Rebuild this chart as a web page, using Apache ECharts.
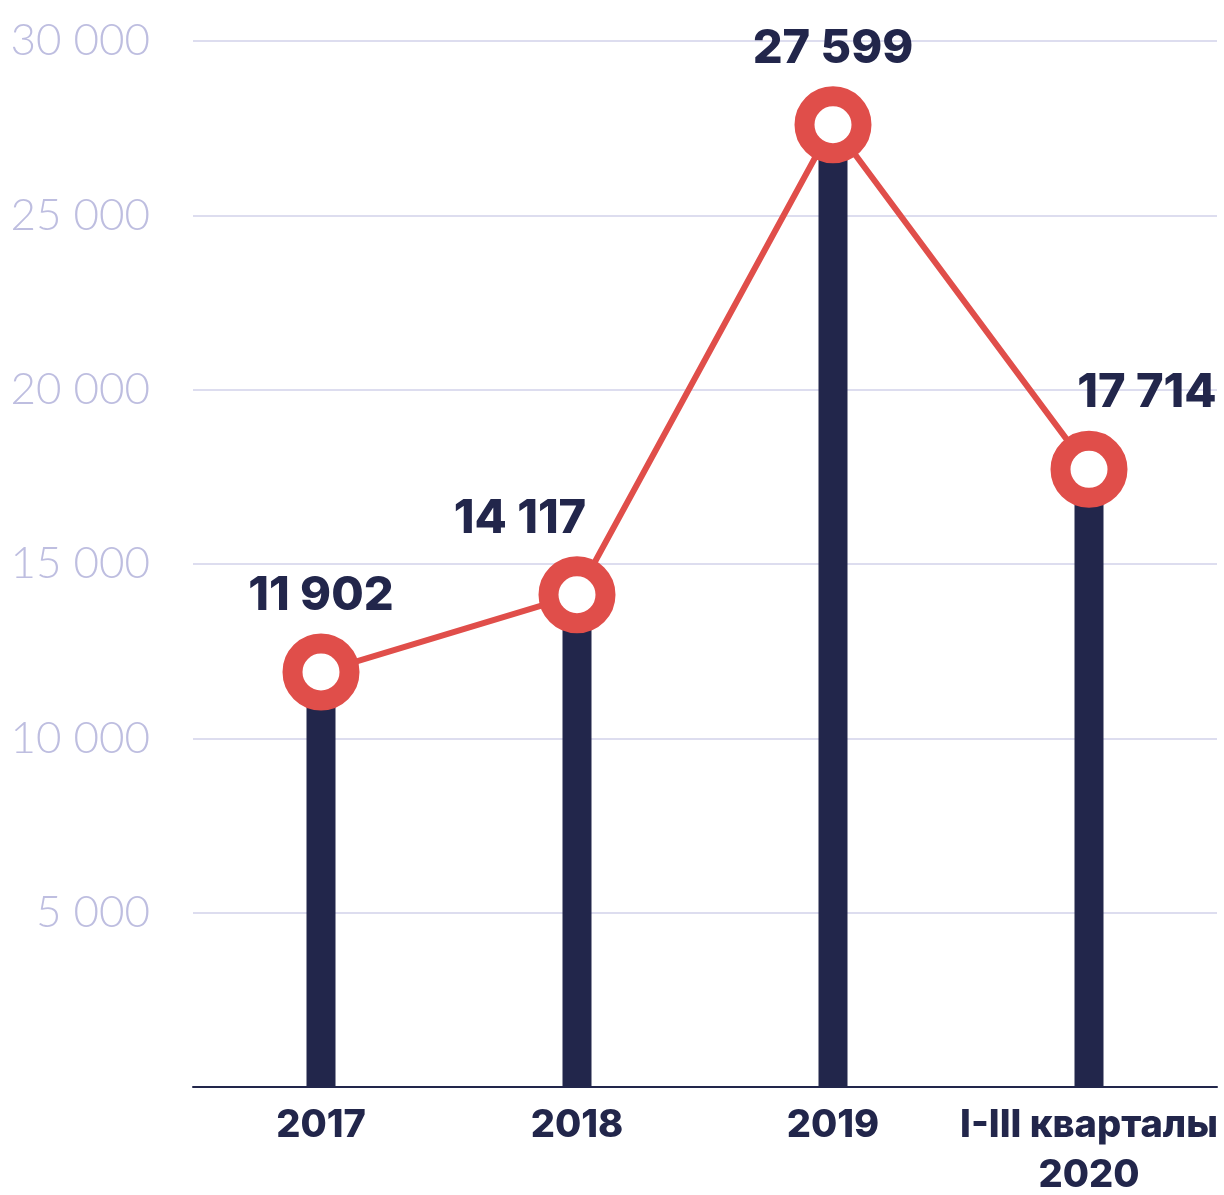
<!DOCTYPE html>
<html>
<head>
<meta charset="utf-8">
<script src="https://cdn.jsdelivr.net/npm/echarts@6/dist/echarts.min.js"></script>
<style>
html, body { margin: 0; padding: 0; background: #fff; }
#box1 { width: 1224px; height: 1195px; }
</style>
</head>
<body>
<div id="box1"></div>
<script>
var categories = ['2017', '2018', '2019', 'I-III кварталы\n2020']
var values = [11902, 14117, 27599, 17714]
var labelShift = [0, -57, 0, 58]
var yTicks = [0, 5000, 10000, 15000, 20000, 25000, 30000]

var navy = '#22264b'
var red = '#e04e4a'

function fmt(v) {
    return String(v).replace(/\B(?=(\d{3})+(?!\d))/g, ' ')
}

var chart = echarts.init(document.getElementById('box1'))
var option = {
    animation: false,
    grid: { left: 193, right: 7, top: 41, bottom: 108, containLabel: false, outerBoundsMode: 'none' },
    xAxis: {
        type: 'category',
        data: categories,
        axisTick: { show: false },
        axisLine: { lineStyle: { color: navy, width: 2 } },
        axisLabel: {
            interval: 0,
            color: navy,
            fontFamily: 'Inter',
            fontWeight: 800,
            fontSize: 38,
            lineHeight: 50,
            margin: 14
        }
    },
    yAxis: {
        type: 'value',
        min: yTicks[0],
        max: yTicks[yTicks.length - 1],
        interval: 5000,
        axisLine: { show: false },
        axisTick: { show: false },
        splitLine: { lineStyle: { color: '#d2d2ea', width: 1.5 } },
        axisLabel: {
            color: '#bebee0',
            fontFamily: 'Lato',
            fontWeight: 300,
            fontSize: 44,
            margin: 43,
            formatter: function (v) { return v === 0 ? '' : fmt(v) }
        }
    },
    series: [
        {
            type: 'bar',
            data: values,
            barWidth: 29,
            itemStyle: { color: navy },
            z: 2
        },
        {
            type: 'line',
            data: values.map(function (v, i) {
                return {
                    value: v,
                    label: { offset: [labelShift[i], 0] }
                }
            }),
            symbol: 'circle',
            symbolSize: 57,
            lineStyle: { color: red, width: 6 },
            itemStyle: { color: '#fff', borderColor: red, borderWidth: 20 },
            label: {
                show: true,
                position: 'top',
                distance: 14,
                color: navy,
                fontFamily: 'Inter',
                fontWeight: 800,
                fontSize: 47,
                formatter: function (p) { return fmt(p.value) }
            },
            z: 3
        }
    ]
}
chart.setOption(option)
</script>
</body>
</html>
